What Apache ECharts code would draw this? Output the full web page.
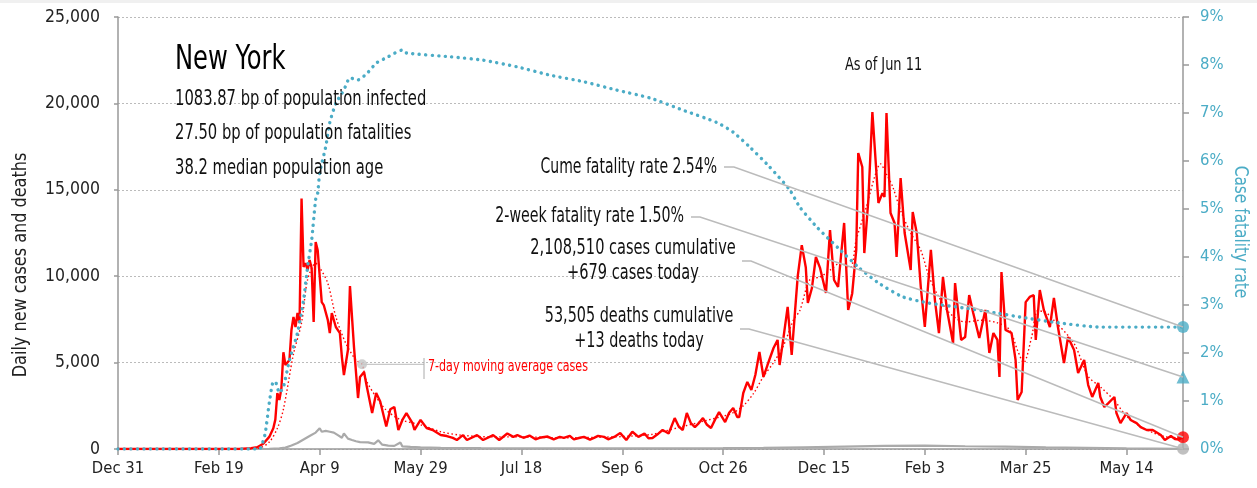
<!DOCTYPE html>
<html><head><meta charset="utf-8">
<script src="https://cdn.jsdelivr.net/npm/echarts@6/dist/echarts.min.js"></script>
<style>html,body{margin:0;padding:0;background:#fff;overflow:hidden}#c{width:1257px;height:488px}</style>
</head><body><div id="c"></div>
<script>
const FONT = "'DejaVu Sans Condensed','Liberation Sans Narrow',sans-serif";

// x = days since Dec 31, 2019
const xTickLabels = ['Dec 31','Feb 19','Apr 9','May 29','Jul 18','Sep 6','Oct 26','Dec 15','Feb 3','Mar 25','May 14'];
const xTickStep = 50;
const lastDay = 528; // Jun 11, 2021

const dailyCases = [
  [0,0],[60,0],[66,50],[69,100],[72,300],[75,700],[77,1200],[78,1700],[79,3240],[80,2835],[81,3500],[82,5600],[83,4860],[85,5150],
  [86,6890],[87,7640],[88,7060],[89,7870],[90,7290],[91,14500],[92,10530],[93,10760],[94,10360],[95,10940],[96,10475],[97,7350],
  [98,11980],[99,11500],[101,8500],[102,8330],[104,7470],[105,6710],[106,7870],[108,7060],[110,6710],[111,5320],[112,4280],
  [114,5730],[115,9430],[117,5900],[119,2950],[120,4170],[122,4456],[123,3820],[125,2660],[126,2080],[128,3240],[130,2750],
  [133,1300],[135,2300],[137,2430],[139,1100],[141,1680],[143,2080],[146,1500],[147,1100],[150,1680],[153,1215],[156,1100],
  [160,810],[163,750],[166,640],[168,520],[171,800],[173,520],[178,800],[181,520],[186,800],[189,520],[193,900],[196,700],
  [198,800],[201,650],[204,780],[207,560],[209,650],[213,720],[216,560],[219,700],[221,640],[224,760],[226,560],[229,650],
  [231,700],[234,540],[236,640],[238,760],[241,700],[243,560],[246,700],[249,920],[252,520],[255,1000],[258,700],[261,900],
  [263,620],[265,640],[268,900],[270,1100],[273,900],[276,1790],[278,1300],[280,1100],[282,2080],[284,1500],[286,1270],
  [288,1500],[290,1790],[292,1400],[294,1215],[296,1700],[298,2140],[301,1560],[303,2100],[305,2370],[307,1850],[308,1850],
  [310,3240],[312,3880],[314,3415],[316,4300],[318,5610],[320,4170],[322,4860],[325,5845],[327,6310],[328,4860],[330,6500],
  [332,8220],[334,5440],[336,8500],[337,10000],[339,11800],[341,10500],[342,8450],[344,9300],[346,11110],[348,10500],
  [351,9030],[353,12670],[355,9780],[357,9375],[360,13080],[362,8045],[364,9000],[366,11520],[367,17130],[369,16320],
  [370,11340],[372,14410],[374,19500],[377,14240],[379,14810],[380,14580],[381,19440],[383,13660],[385,13080],[386,11110],
  [388,15680],[390,12500],[393,10360],[394,13715],[396,12500],[398,9375],[400,7060],[403,11520],[405,8620],[407,6710],
  [409,9950],[411,8045],[414,6130],[415,9600],[418,6310],[420,6480],[422,8910],[424,7870],[427,6420],[430,8045],[432,5560],
  [434,6710],[436,6310],[437,4170],[438,10240],[440,6890],[443,6710],[445,5150],[446,2835],[448,3300],[450,8500],[452,8800],
  [454,8900],[455,6310],[457,9200],[459,8045],[462,7060],[464,8740],[466,7060],[469,4980],[471,6480],[474,5730],[476,4400],
  [479,5150],[481,3700],[483,3010],[486,3820],[487,3010],[489,2430],[491,2660],[494,3010],[495,2080],[497,1500],[500,2080],
  [502,1680],[505,1500],[507,1270],[510,1100],[513,1100],[517,810],[519,520],[522,750],[524,580],[526,550],[528,679]
];

const casesMA7 = [
  [0,0],[65,0],[70,50],[75,400],[79,1200],[82,2300],[87,5500],[91,7300],[94,9800],[98,10750],[100,10500],[104,9600],
  [108,7650],[113,6100],[118,5150],[121,4900],[123,4000],[128,3000],[133,2250],[140,1700],[150,1400],[160,1000],[170,800],
  [185,700],[200,700],[220,650],[240,680],[255,750],[265,850],[270,1000],[280,1300],[290,1600],[300,1900],[305,2100],
  [310,2500],[315,3200],[320,4200],[325,5000],[330,6000],[335,7500],[338,8000],[343,9800],[348,9950],[353,10350],
  [358,10750],[363,10500],[366,12100],[371,14000],[375,15700],[378,16500],[381,15900],[384,15200],[388,13800],[393,12500],
  [398,11500],[402,10000],[406,9000],[412,7900],[420,7350],[428,7450],[436,7300],[442,6900],[446,5700],[449,5000],
  [453,6500],[456,8000],[460,7900],[464,7450],[474,6100],[481,4200],[487,3600],[494,2800],[500,1900],[507,1300],
  [513,950],[520,700],[528,650]
];

const dailyDeaths = [
  [0,0],[70,0],[75,10],[80,40],[83,80],[86,200],[89,350],[92,550],[95,750],[98,950],[100,1200],[101,1000],[103,1050],
  [105,1000],[107,950],[109,800],[111,650],[112,900],[114,600],[116,520],[118,450],[120,400],[124,380],[127,300],[129,500],
  [131,250],[134,200],[137,180],[140,380],[141,150],[145,120],[150,100],[160,70],[180,50],[200,40],[250,35],[300,45],
  [320,60],[340,100],[360,140],[380,180],[400,190],[420,160],[440,140],[460,100],[480,70],[500,40],[528,13]
];

const caseFatalityRate = [
  [0,0],[70,0],[71,0.04],[73,0.33],[75,0.96],[77,1.4],[78,1.4],[80,1.17],[82,1.29],[85,1.85],[89,2.42],[92,3.1],[94,3.8],
  [96,4.35],[98,5.2],[99,5.33],[100,5.75],[103,6.3],[105,6.8],[108,7.2],[112,7.48],[115,7.73],[119,7.69],[124,7.85],
  [128,8.04],[133,8.15],[141,8.31],[143,8.25],[165,8.17],[181,8.1],[198,7.96],[214,7.79],[231,7.65],[247,7.48],[264,7.31],
  [280,7.06],[297,6.8],[305,6.6],[313,6.3],[323,5.88],[333,5.4],[338,5.04],[347,4.6],[357,4.19],[367,3.79],[377,3.46],
  [389,3.17],[402,3.04],[419,2.94],[436,2.83],[447,2.75],[466,2.63],[487,2.54],[528,2.54]
];

const cumeFatalityRate = 2.54;
const twoWeekFatalityRate = 1.50;
const casesToday = 679;
const deathsToday = 13;
const maLabelDay = 121, maLabelValue = 4900;

const titleLines = ['New York','1083.87 bp of population infected','27.50 bp of population fatalities','38.2 median population age'];
const asOfText = 'As of Jun 11';
const leftAxisName = 'Daily new cases and deaths';
const rightAxisName = 'Case fatality rate';

const BLUE = '#4bacc6', RED = '#ff0000', GRAY = '#aaaaaa', LEAD = '#bbbbbb', TXT = '#111';

const chart = echarts.init(document.getElementById('c'), null, {renderer:'canvas', width:1257, height:488});

chart.setOption({
  animation:false,
  backgroundColor:'#fff',
  textStyle:{fontFamily:FONT},
  grid:{left:118,right:74,top:17,bottom:39,containLabel:false},
  xAxis:{type:'value',min:0,max:lastDay,interval:xTickStep,
    axisLine:{lineStyle:{color:'#999',width:1.5}},
    axisTick:{length:6,lineStyle:{color:'#999',width:1.5}},
    axisLabel:{fontFamily:FONT,fontSize:16.5,color:'#222',margin:11,showMaxLabel:false,
      formatter:v=> (v%xTickStep===0 && xTickLabels[v/xTickStep]) ? xTickLabels[v/xTickStep] : ''},
    splitLine:{show:false}},
  yAxis:[
    {type:'value',min:0,max:25000,interval:5000,
      axisLine:{show:true,lineStyle:{color:'#999',width:1.5}},
      axisTick:{show:true,length:4,lineStyle:{color:'#999',width:1.5}},
      axisLabel:{fontFamily:FONT,fontSize:17.5,color:'#222',margin:18,formatter:v=>v.toLocaleString('en-US')},
      splitLine:{show:true,lineStyle:{color:'#bbb',type:[2,2],width:1}}},
    {type:'value',min:0,max:9,interval:1,position:'right',
      axisLine:{show:true,lineStyle:{color:'#999',width:1.5}},
      axisTick:{show:true,length:6,lineStyle:{color:'#999',width:1.5}},
      axisLabel:{fontFamily:FONT,fontSize:16.5,color:BLUE,margin:17,formatter:'{value}%'},
      splitLine:{show:false}}
  ],
  series:[
    {name:'deaths',type:'line',data:dailyDeaths,showSymbol:false,lineStyle:{color:GRAY,width:2.2},z:2},
    {name:'cases',type:'line',data:dailyCases,showSymbol:false,lineStyle:{color:RED,width:2.4},z:3},
    {name:'ma7',type:'line',data:casesMA7,showSymbol:false,smooth:0.3,lineStyle:{color:RED,width:1.4,type:[1.5,2.5]},z:4},
    {name:'cfr',type:'line',yAxisIndex:1,data:caseFatalityRate,showSymbol:false,smooth:0.2,
      lineStyle:{color:BLUE,width:3.4,type:[0.1,6.4],cap:'round'},z:5},
    {type:'scatter',yAxisIndex:1,data:[[lastDay,cumeFatalityRate]],symbol:'circle',symbolSize:12,itemStyle:{color:BLUE},z:8},
    {type:'scatter',yAxisIndex:1,data:[[lastDay,twoWeekFatalityRate]],symbol:'triangle',symbolSize:13,itemStyle:{color:BLUE},z:8},
    {type:'scatter',data:[[lastDay,casesToday]],symbol:'circle',symbolSize:12,itemStyle:{color:RED},z:8},
    {type:'scatter',data:[[lastDay,deathsToday]],symbol:'circle',symbolSize:12,itemStyle:{color:'#b0b0b0'},z:8},
    {type:'scatter',data:[[maLabelDay,maLabelValue]],symbol:'circle',symbolSize:10,itemStyle:{color:'#c4c4c4'},z:8}
  ]
});

const pL = v => chart.convertToPixel({xAxisIndex:0,yAxisIndex:0},v);
const pR = v => chart.convertToPixel({xAxisIndex:0,yAxisIndex:1},v);

const cumeP = pR([lastDay,cumeFatalityRate]);
const twoP = pR([lastDay,twoWeekFatalityRate]);
const casesP = pL([lastDay,casesToday]);
const deathsP = pL([lastDay,deathsToday]);
const maP = pL([maLabelDay,maLabelValue]);

function txt(text,x,y,size,align,color,sx,rot){
  return {type:'text',z:20,x:x,y:y,scaleX:sx||0.79,scaleY:1,rotation:rot||0,
    style:{text:text,x:0,y:0,font:size+'px '+FONT,fill:color||TXT,align:align||'left',verticalAlign:'middle'}};
}
function pl(points){
  return {type:'polyline',z:15,shape:{points:points},style:{stroke:LEAD,lineWidth:1.6,fill:null}};
}

chart.setOption({graphic:[
  {type:'rect',shape:{x:0,y:0,width:1257,height:3},style:{fill:'#f0f0f0'},z:1},
  txt(titleLines[0],175,60,33,'left','#000',0.815),
  txt(titleLines[1],175,100,20.5,'left',TXT,0.8),
  txt(titleLines[2],175,134,20.5,'left',TXT,0.8),
  txt(titleLines[3],175,169,20.5,'left',TXT,0.8),
  txt(asOfText,845,65,18,'left',TXT,0.8),
  txt('Cume fatality rate '+cumeFatalityRate.toFixed(2)+'%',717,168,20.5,'right',TXT,0.76),
  pl([[724,167],[734,167],cumeP]),
  txt('2-week fatality rate '+twoWeekFatalityRate.toFixed(2)+'%',684,217,20.5,'right',TXT,0.77),
  pl([[691,217],[700,217],twoP]),
  txt('2,108,510 cases cumulative',633,249,20.5,'center',TXT,0.79),
  txt('+'+casesToday+' cases today',633,274,20.5,'center',TXT,0.79),
  pl([[742,261],[751,261],casesP]),
  txt('53,505 deaths cumulative',639,317,20.5,'center',TXT,0.78),
  txt('+'+deathsToday+' deaths today',639,342,20.5,'center',TXT,0.78),
  pl([[740,329],[749,329],deathsP]),
  {type:'line',z:15,shape:{x1:maP[0],y1:maP[1],x2:424,y2:maP[1]},style:{stroke:'#c8c8c8',lineWidth:1.2}},
  {type:'line',z:15,shape:{x1:424,y1:358,x2:424,y2:379},style:{stroke:'#aaa',lineWidth:1}},
  txt('7-day moving average cases',428,367,16,'left',RED,0.77),
  txt(leftAxisName,21,265,19,'center','#222',0.94,Math.PI/2),
  txt(rightAxisName,1240,232,19,'center',BLUE,0.9,-Math.PI/2)
]});
</script></body></html>
